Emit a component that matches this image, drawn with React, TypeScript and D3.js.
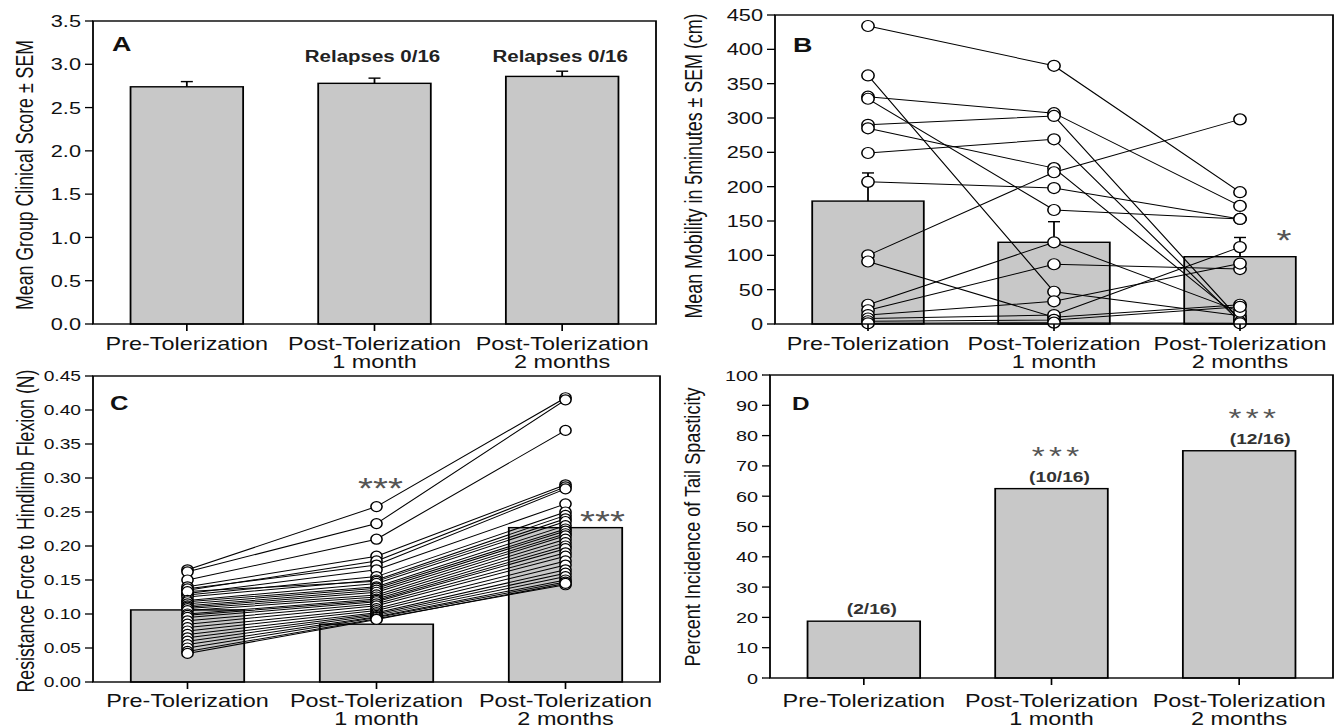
import React from 'react';
import * as d3 from 'd3';

// the source figure is stretched sideways, so everything is drawn in a squeezed x and scaled back
const S = 1.28;
const FONT = '"Liberation Sans", Arial, Helvetica, sans-serif';
const BAR_FILL = '#c8c8c8';

const catLines = [['Pre-Tolerization'], ['Post-Tolerization', '1 month'], ['Post-Tolerization', '2 months']];
const idx = [0, 1, 2];

// A: clinical score
const clinicalMean = [2.74, 2.78, 2.86];
const clinicalSem = [0.06, 0.06, 0.06];
const relapseLabels = ['', 'Relapses 0/16', 'Relapses 0/16'];
const ticksA = [0, 0.5, 1, 1.5, 2, 2.5, 3, 3.5];

// B: mobility
const mobilityMean = [179, 119, 98];
const mobilitySem = [41, 30, 28];
const mobilityPre = [434, 362, 331, 328, 290, 285, 249, 207, 100, 91, 28, 20, 13, 8, 4, 1];
const mobilityPost1 = [376, 47, 307, 166, 303, 227, 269, 198, 221, 10, 119, 87, 33, 13, 6, 2];
const mobilityPost2 = [192, 12, 172, 153, 6, 8, 3, 153, 298, 28, 18, 80, 88, 112, 25, 1];
const ticksB = [0, 50, 100, 150, 200, 250, 300, 350, 400, 450];

// C: resistance force
const forceMean = [0.106, 0.085, 0.227];
const forcePre = [0.165, 0.162, 0.15, 0.14, 0.135, 0.137, 0.13, 0.128, 0.125, 0.133, 0.12, 0.118, 0.115, 0.112, 0.11, 0.108,
  0.105, 0.1, 0.098, 0.095, 0.09, 0.085, 0.08, 0.075, 0.07, 0.065, 0.06, 0.055, 0.05, 0.045, 0.042];
const forcePost1 = [0.258, 0.233, 0.21, 0.185, 0.178, 0.172, 0.165, 0.155, 0.15, 0.148, 0.145, 0.14, 0.138, 0.135, 0.132, 0.128,
  0.125, 0.122, 0.12, 0.118, 0.115, 0.112, 0.108, 0.105, 0.102, 0.1, 0.098, 0.096, 0.095, 0.093, 0.092];
const forcePost2 = [0.418, 0.415, 0.37, 0.29, 0.287, 0.284, 0.262, 0.25, 0.245, 0.24, 0.236, 0.23, 0.225, 0.222, 0.218, 0.215,
  0.21, 0.205, 0.2, 0.196, 0.19, 0.185, 0.178, 0.172, 0.165, 0.16, 0.155, 0.15, 0.147, 0.143, 0.145];
const forceStars = ['', '***', '***'];
const ticksC = [0, 0.05, 0.1, 0.15, 0.2, 0.25, 0.3, 0.35, 0.4, 0.45];

// D: tail spasticity
const spasticityPct = [18.75, 62.5, 75];
const spasticityCounts = ['(2/16)', '(10/16)', '(12/16)'];
const spasticityStars = ['', '***', '***'];
const ticksD = [0, 10, 20, 30, 40, 50, 60, 70, 80, 90, 100];

type Frame = { x0: number; x1: number; y0: number; y1: number };

const frameA: Frame = { x0: 93, x1: 656, y0: 21, y1: 324 };
const frameB: Frame = { x0: 775, x1: 1333, y0: 15, y1: 324 };
const frameC: Frame = { x0: 93, x1: 660, y0: 376, y1: 682 };
const frameD: Frame = { x0: 770, x1: 1333, y0: 375, y1: 678 };

function scales(f: Frame, yMax: number) {
  const x = d3.scalePoint<number>().domain(idx).range([f.x0 / S, f.x1 / S]).padding(0.5);
  const y = d3.scaleLinear().domain([0, yMax]).range([f.y1, f.y0]);
  return { x, y, barW: x.step() * 0.6 };
}

function Axes(props: any) {
  const { f, x, y, ticks, fmt, tickSize, title, titleX, titleY, titleLen, titleSize, letter, letterSize, letterX, letterY, labelY } = props;
  return (
    <g>
      <rect x={f.x0 / S} y={f.y0} width={(f.x1 - f.x0) / S} height={f.y1 - f.y0} fill="none" stroke="#000" strokeWidth={1.4} />
      {ticks.map((t: number) => (
        <g key={t}>
          <line x1={(f.x0 - 8) / S} x2={f.x0 / S} y1={y(t)} y2={y(t)} stroke="#000" strokeWidth={1.3} />
          <text x={(f.x0 - 12) / S} y={y(t)} dy="0.36em" textAnchor="end" fontSize={tickSize} fill="#111">{fmt(t)}</text>
        </g>
      ))}
      {idx.map(i => (
        <g key={i}>
          <line x1={x(i)} x2={x(i)} y1={f.y1} y2={f.y1 + 7} stroke="#000" strokeWidth={1.3} />
          {catLines[i].map((s, k) => (
            <text key={k} x={x(i)} y={f.y1 + labelY + k * 18} textAnchor="middle" fontSize={18.3} fill="#111">{s}</text>
          ))}
        </g>
      ))}
      <text transform={`translate(${titleX / S},${titleY}) rotate(-90)`} textAnchor="middle" fontSize={titleSize}
        textLength={titleLen} lengthAdjust="spacingAndGlyphs" fill="#111">{title}</text>
      <text x={letterX / S} y={letterY} fontSize={letterSize} fontWeight="bold" fill="#111">{letter}</text>
    </g>
  );
}

function Bars({ f, x, y, barW, values, sem }: any) {
  const cap = 12 / S;
  return (
    <g>
      {values.map((v: number, i: number) => (
        <rect key={i} x={x(i) - barW / 2} y={y(v)} width={barW} height={f.y1 - y(v)} fill={BAR_FILL} stroke="#000" strokeWidth={1.4} />
      ))}
      {sem && values.map((v: number, i: number) => (
        <g key={'e' + i} stroke="#000" strokeWidth={1.4}>
          <line x1={x(i)} x2={x(i)} y1={y(v)} y2={y(v + sem[i])} />
          <line x1={x(i) - cap / 2} x2={x(i) + cap / 2} y1={y(v + sem[i])} y2={y(v + sem[i])} />
        </g>
      ))}
    </g>
  );
}

function Subjects({ x, y, series, r }: any) {
  const rows = d3.zip(...series) as number[][];
  const line = d3.line<number>().x((_, i) => x(i)).y(v => y(v));
  return (
    <g>
      {rows.map((row, k) => (
        <path key={k} d={line(row) || ''} fill="none" stroke="#000" strokeWidth={1} />
      ))}
      {rows.map((row, k) => row.map((v, i) => (
        <ellipse key={k + '-' + i} cx={x(i)} cy={y(v)} rx={r / S * 1.12} ry={r} fill="#fff" stroke="#000" strokeWidth={1.2} />
      )))}
    </g>
  );
}

export default function App() {
  const A = scales(frameA, 3.5);
  const B = scales(frameB, 450);
  const C = scales(frameC, 0.45);
  const D = scales(frameD, 100);

  return (
    <svg width={1334} height={728} style={{ position: 'absolute', left: 0, top: 0, background: '#fff' }}>
      <rect width={1334} height={728} fill="#fff" />
      <g transform={`scale(${S},1)`} fontFamily={FONT}>
        {/* A */}
        <Bars f={frameA} {...A} values={clinicalMean} sem={clinicalSem} />
        <Axes f={frameA} x={A.x} y={A.y} ticks={ticksA} fmt={(t: number) => t.toFixed(1)} tickSize={17}
          title={'Mean Group Clinical Score \u00B1 SEM'} titleX={33} titleY={175} titleLen={270} titleSize={18}
          letter="A" letterSize={21} letterX={112} letterY={51} labelY={26} />
        {relapseLabels.map((s, i) => s && (
          <text key={i} x={A.x(i)! - 2 / S} y={62} textAnchor="middle" fontSize={16} fontWeight="bold" fill="#222">{s}</text>
        ))}

        {/* B */}
        <Bars f={frameB} {...B} values={mobilityMean} sem={mobilitySem} />
        <Subjects x={B.x} y={B.y} series={[mobilityPre, mobilityPost1, mobilityPost2]} r={5.5} />
        <Axes f={frameB} x={B.x} y={B.y} ticks={ticksB} fmt={(t: number) => String(t)} tickSize={17}
          title={'Mean Mobility in 5minutes \u00B1 SEM (cm)'} titleX={702} titleY={166} titleLen={305} titleSize={18}
          letter="B" letterSize={21} letterX={793} letterY={52} labelY={26} />
        <text x={B.x(2)! + 44 / S} y={B.y(mobilityMean[2] + mobilitySem[2]) + 13} textAnchor="middle" fontSize={30} fill="#555">*</text>

        {/* C */}
        <Bars f={frameC} {...C} values={forceMean} />
        <Subjects x={C.x} y={C.y} series={[forcePre, forcePost1, forcePost2]} r={5} />
        <Axes f={frameC} x={C.x} y={C.y} ticks={ticksC} fmt={(t: number) => t.toFixed(2)} tickSize={15}
          title="Resistance Force to Hindlimb Flexion (N)" titleX={34} titleY={531} titleLen={323} titleSize={18}
          letter="C" letterSize={20} letterX={110} letterY={410} labelY={25} />
        <text x={C.x(1)! + 4 / S} y={C.y(d3.max(forcePost1)!) - 9} textAnchor="middle" fontSize={30} fill="#555">{forceStars[1]}</text>
        <text x={C.x(2)! + 37 / S} y={C.y(forceMean[2]) + 3} textAnchor="middle" fontSize={30} fill="#555">{forceStars[2]}</text>

        {/* D */}
        <Bars f={frameD} {...D} values={spasticityPct} />
        <Axes f={frameD} x={D.x} y={D.y} ticks={ticksD} fmt={(t: number) => String(t)} tickSize={15.5}
          title="Percent Incidence of Tail Spasticity" titleX={700} titleY={527} titleLen={279} titleSize={17}
          letter="D" letterSize={19} letterX={792} letterY={410} labelY={29} />
        {spasticityCounts.map((s, i) => (
          <text key={i} x={D.x(i)! + [8, 8, 21][i] / S} y={D.y(spasticityPct[i]) - 7} textAnchor="middle" fontSize={15}
            fontWeight="bold" fill="#333">{s}</text>
        ))}
        {spasticityStars.map((s, i) => s && (
          <text key={'s' + i} x={D.x(i)! + [0, 4, 13][i] / S} y={D.y(spasticityPct[i]) - 24} textAnchor="middle" fontSize={26}
            textLength={37} lengthAdjust="spacing" fill="#555">{s}</text>
        ))}
      </g>
    </svg>
  );
}
